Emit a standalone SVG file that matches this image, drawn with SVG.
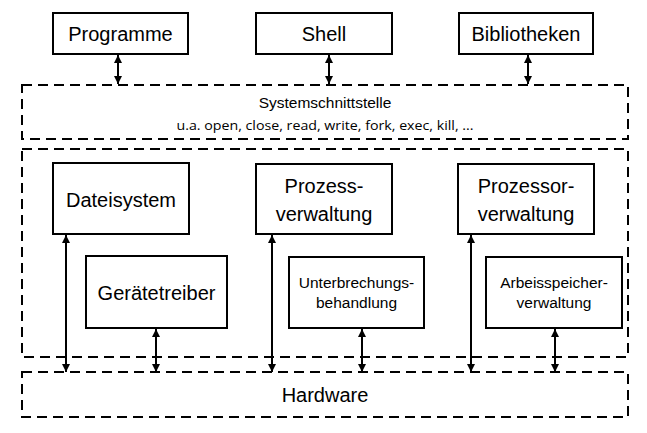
<svg xmlns="http://www.w3.org/2000/svg" width="647" height="433" viewBox="0 0 647 433">
<style>
.box{fill:#fff;stroke:#000;stroke-width:2}
.dash{fill:none;stroke:#000;stroke-width:2;stroke-dasharray:10 6}
.t{font-family:"Liberation Sans",Arial,sans-serif;fill:#000;text-anchor:middle}
.big{font-size:20px}
.mid{font-size:15.5px}
.small{font-family:"Open Sans","Noto Sans",sans-serif;font-size:12.5px;fill:#000;text-anchor:middle}
.conn{stroke:#000;stroke-width:2;fill:none;marker-start:url(#a);marker-end:url(#a)}
</style>
<defs>
<marker id="a" viewBox="0 0 10 10" refX="10" refY="5" markerWidth="4" markerHeight="4" orient="auto-start-reverse" markerUnits="strokeWidth">
<path d="M0,0 L10,5 L0,10 z" fill="#000"/>
</marker>
</defs>
<g id="systemschnittstelle">
<rect class="dash" x="22" y="85" width="606" height="54"/>
<text class="t mid" x="325" y="108">Systemschnittstelle</text>
<text class="small" x="325" y="130" textLength="297" lengthAdjust="spacingAndGlyphs">u.a. open, close, read, write, fork, exec, kill, ...</text>
</g>
<g id="kernel">
<rect class="dash" x="22" y="149" width="606" height="208"/>
</g>
<g id="hardware">
<rect class="dash" x="22" y="372" width="606" height="45"/>
<text class="t big" x="325" y="402">Hardware</text>
</g>
<g id="programme">
<rect class="box" x="53" y="13" width="135" height="41"/>
<text class="t big" x="120.5" y="41">Programme</text>
</g>
<g id="shell">
<rect class="box" x="256" y="13" width="136" height="41"/>
<text class="t big" x="324" y="41">Shell</text>
</g>
<g id="bibliotheken">
<rect class="box" x="459" y="13" width="134" height="41"/>
<text class="t big" x="526" y="41">Bibliotheken</text>
</g>
<g id="dateisystem">
<rect class="box" x="53" y="163" width="136" height="71"/>
<text class="t big" x="121" y="207">Dateisystem</text>
</g>
<g id="prozessverwaltung">
<rect class="box" x="256" y="164" width="136" height="70"/>
<text class="t big" x="324" y="193">Prozess-</text>
<text class="t big" x="324" y="221">verwaltung</text>
</g>
<g id="prozessorverwaltung">
<rect class="box" x="458" y="164" width="136" height="70"/>
<text class="t big" x="526" y="193">Prozessor-</text>
<text class="t big" x="526" y="221">verwaltung</text>
</g>
<g id="geraetetreiber">
<rect class="box" x="86" y="256" width="141" height="72"/>
<text class="t big" x="156.5" y="300">Gerätetreiber</text>
</g>
<g id="unterbrechungsbehandlung">
<rect class="box" x="289" y="257" width="135" height="71"/>
<text class="t mid" x="356.5" y="288">Unterbrechungs-</text>
<text class="t mid" x="356.5" y="308">behandlung</text>
</g>
<g id="arbeitsspeicherverwaltung">
<rect class="box" x="486" y="257" width="136" height="71"/>
<text class="t mid" x="554" y="288">Arbeisspeicher-</text>
<text class="t mid" x="554" y="308">verwaltung</text>
</g>
<g id="connectors">
<line class="conn" x1="118" y1="55" x2="118" y2="84"/>
<line class="conn" x1="329" y1="55" x2="329" y2="84"/>
<line class="conn" x1="528" y1="55" x2="528" y2="84"/>
<line class="conn" x1="66" y1="235" x2="66" y2="372"/>
<line class="conn" x1="156" y1="329" x2="156" y2="372"/>
<line class="conn" x1="272" y1="235" x2="272" y2="372"/>
<line class="conn" x1="362" y1="329" x2="362" y2="372"/>
<line class="conn" x1="471" y1="235" x2="471" y2="372"/>
<line class="conn" x1="555" y1="329" x2="555" y2="372"/>
</g>
</svg>
